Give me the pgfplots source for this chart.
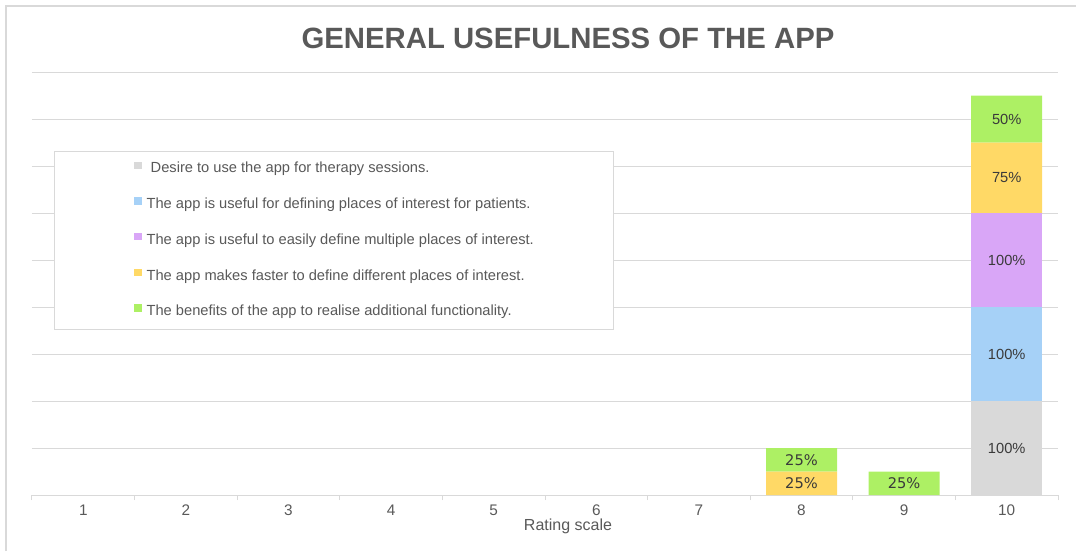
\documentclass[border=0pt]{standalone}
\usepackage{pgfplots}
\pgfplotsset{compat=1.18}
\usepackage{fontspec}
\setmainfont{Liberation Sans}
\newfontfamily\dejavu{DejaVu Sans}
\definecolor{cgray}{HTML}{D9D9D9}
\definecolor{cblue}{HTML}{A6D1F7}
\definecolor{cpurple}{HTML}{D9A6F7}
\definecolor{corange}{HTML}{FFD966}
\definecolor{cgreen}{HTML}{ADF064}
\definecolor{gridc}{HTML}{D9D9D9}
\definecolor{txt}{HTML}{595959}
\definecolor{lbl}{HTML}{3A3A3A}
\begin{document}
\begin{tikzpicture}
\path[use as bounding box] (0pt,0pt) rectangle (807pt,413.25pt);
\draw[gridc, line width=1pt] (4.5pt,0pt) -- (4.5pt,408.75pt) -- (807pt,408.75pt);
\begin{axis}[
  at={(24pt,42pt)}, anchor=south west,
  scale only axis, width=769.5pt, height=317.25pt,
  xmin=0.5, xmax=10.5, ymin=0, ymax=450,
  ybar stacked, bar width=53.25pt,
  xtick={1,...,10},
  minor xtick={0.5,1.5,...,10.5},
  major tick length=0pt,
  minor tick length=3.75pt,
  tick align=outside,
  x tick style={gridc, line width=0.75pt},
  y tick style={draw=none},
  ytick={0,50,...,450}, yticklabels={},
  ymajorgrids, y grid style={gridc, line width=0.75pt},
  axis x line*=bottom, axis y line*=left,
  x axis line style={gridc, line width=0.75pt, -},
  y axis line style={draw=none},
  /pgf/number format/assume math mode=true,
  xticklabel style={font=\fontsize{11.5}{13}\selectfont, text=txt, yshift=-4pt},
  legend image code/.code={\fill[#1, draw=none] (0pt,0.2pt) rectangle (5.6pt,5.8pt);},
  legend style={at={(0.02144,0.8132)}, anchor=north west, draw=gridc, line width=0.75pt,
    inner xsep=60pt, inner ysep=7.5pt, row sep=15.75pt, column sep=3.5pt,
    font=\fontsize{11}{13}\selectfont, text=txt,
    nodes={inner sep=0pt, text height=8pt, text depth=2.5pt}},
  legend cell align=left,
]
\addplot[fill=cgray, draw=none] coordinates {(8,0) (9,0) (10,100)};
\addlegendentry{\ Desire to use the app for therapy sessions.}
\addplot[fill=cblue, draw=none] coordinates {(8,0) (9,0) (10,100)};
\addlegendentry{The app is useful for defining places of interest for patients.}
\addplot[fill=cpurple, draw=none] coordinates {(8,0) (9,0) (10,100)};
\addlegendentry{The app is useful to easily define multiple places of interest.}
\addplot[fill=corange, draw=none] coordinates {(8,25) (9,0) (10,75)};
\addlegendentry{The app makes faster to define different places of interest.}
\addplot[fill=cgreen, draw=none] coordinates {(8,25) (9,25) (10,50)};
\addlegendentry{The benefits of the app to realise additional functionality.}
\end{axis}
\begin{axis}[
  at={(24pt,42pt)}, anchor=south west,
  scale only axis, width=769.5pt, height=317.25pt,
  xmin=0.5, xmax=10.5, ymin=0, ymax=450,
  hide axis,
  nodes near coords, point meta=explicit symbolic,
]
\addplot[draw=none, every node near coord/.append style={anchor=center, text=lbl, font=\fontsize{11}{13}\selectfont}]
  coordinates {(10,50) [100\%] (10,150) [100\%] (10,250) [100\%] (10,337.5) [75\%] (10,400) [50\%]};
\addplot[draw=none, every node near coord/.append style={anchor=center, text=lbl, font=\dejavu\fontsize{11}{13}\selectfont}]
  coordinates {(8,12.5) [25\%] (8,37.5) [25\%] (9,12.5) [25\%]};
\end{axis}
\node[font=\fontsize{22}{26}\selectfont\bfseries, text=txt, anchor=center] at (426pt,384.75pt) {GENERAL USEFULNESS OF THE APP};
\node[font=\fontsize{12}{14}\selectfont, text=txt, anchor=base] at (426pt,15.75pt) {Rating scale};
\end{tikzpicture}
\end{document}
